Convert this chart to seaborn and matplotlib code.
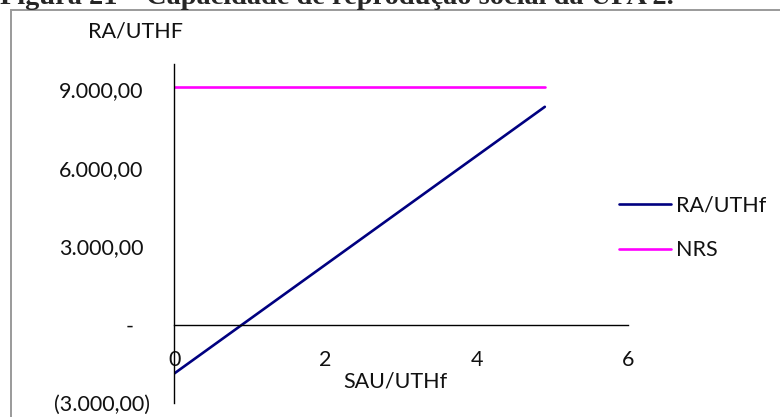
import matplotlib
matplotlib.use("Agg")
import matplotlib.pyplot as plt
from matplotlib.patches import Rectangle
import pandas as pd
import seaborn as sns

# Series values (SAU/UTHf on x, R$ on y)
sau_uthf = [0.0, 4.9]
ra_uthf = [-1860.0, 8330.0]
nrs = [9075.0, 9075.0]

y_ticks = [-3000, 0, 3000, 6000, 9000]
y_tick_labels = ["(3.000,00)", "-", "3.000,00", "6.000,00", "9.000,00"]
x_ticks = [0, 2, 4, 6]
x_tick_labels = ["0", "2", "4", "6"]

title = "Figura 21 – Capacidade de reprodução social da UPA 2."
series_names = ["RA/UTHf", "NRS"]
series_colors = ["#000080", "#FF00FF"]

sns.set_style("white")
plt.rcParams["font.family"] = ["Lato", "DejaVu Sans"]

df = pd.DataFrame({
    "x": sau_uthf + sau_uthf,
    "y": ra_uthf + nrs,
    "serie": [series_names[0]] * len(sau_uthf) + [series_names[1]] * len(sau_uthf),
})

W, H = 780, 417
fig = plt.figure(figsize=(W / 100, H / 100), dpi=100)
fig.patch.set_facecolor("white")

# outer frame around the chart object
fig.add_artist(Rectangle((10.5 / W, -0.1), 1.2, (H - 9.5) / H + 0.1,
                         transform=fig.transFigure, fill=False,
                         edgecolor="#9a9a9a", linewidth=1.4))

# caption, partially clipped by the top edge
fig.text(0 / W, (H - 4.0) / H, title, family="Liberation Serif",
         fontweight="bold", fontsize=20.4, ha="left", va="baseline")

ax = fig.add_axes([174.3 / W, (H - 403.3) / H, (628 - 174.3) / W, (403.3 - 64) / H])
sns.lineplot(data=df, x="x", y="y", hue="serie", palette=series_colors,
             linewidth=1.9, ax=ax, legend=False)

ax.set_xlim(0, 6)
ax.set_ylim(-3000, 9966)
ax.set_xlabel("")
ax.set_ylabel("")

for s in ["top", "right"]:
    ax.spines[s].set_visible(False)
ax.spines["bottom"].set_position(("data", 0))
for s in ["left", "bottom"]:
    ax.spines[s].set_color("black")
    ax.spines[s].set_linewidth(1.0)

ax.set_xticks(x_ticks)
ax.set_xticklabels(x_tick_labels)
ax.set_yticks(y_ticks)
ax.set_yticklabels(y_tick_labels)
ax.tick_params(axis="both", which="major", direction="out", length=5.8,
               width=0.9, color="#808080", labelsize=15.5, labelcolor="#111111")
ax.tick_params(axis="x", pad=12.3)

# per-tick padding mimicking accounting-format alignment
pads = {-3000: 11.5, 0: 23.8, 3000: 16.6, 6000: 16.6, 9000: 16.6}
for tick, v in zip(ax.yaxis.get_major_ticks(), y_ticks):
    tick.set_pad(pads[v])

ax.grid(False)

# axis titles
fig.text(136 / W, 1 - 31 / H, "RA/UTHF", fontsize=15.5, ha="center", va="center",
         color="#111111")
fig.text(395 / W, 1 - 381 / H, "SAU/UTHf", fontsize=15.5, ha="center", va="center",
         color="#111111")

# legend to the right of the plot area
handles = ax.get_lines()[:2]
leg = fig.legend(handles, series_names, loc="center left",
                 bbox_to_anchor=(619 / W, 1 - 228 / H), frameon=False,
                 fontsize=15.5, handlelength=2.4, handletextpad=0.25,
                 labelspacing=1.14, borderpad=0, borderaxespad=0)
for t in leg.get_texts():
    t.set_color("#111111")

fig.savefig("out.png", dpi=100)
